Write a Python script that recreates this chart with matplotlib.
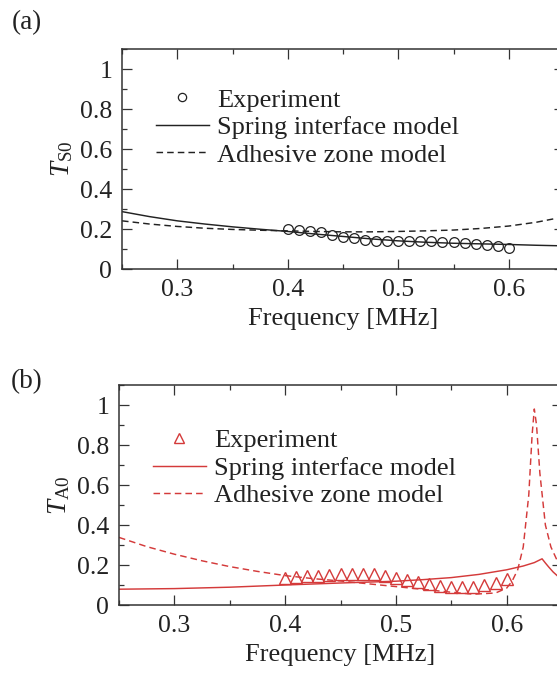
import matplotlib
matplotlib.use("Agg")
import matplotlib.pyplot as plt
from matplotlib.ticker import MultipleLocator

plt.rcParams['font.family'] = ['Liberation Serif', 'DejaVu Serif']
plt.rcParams['mathtext.fontset'] = 'custom'
plt.rcParams['mathtext.rm'] = 'Liberation Serif'
plt.rcParams['mathtext.it'] = 'Liberation Serif:italic'

# ---------------- data ----------------
freq_exp = [0.40, 0.41, 0.42, 0.43, 0.44, 0.45, 0.46, 0.47, 0.48, 0.49, 0.50,
            0.51, 0.52, 0.53, 0.54, 0.55, 0.56, 0.57, 0.58, 0.59, 0.60]
ts0_exp = [0.200, 0.197, 0.190, 0.184, 0.172, 0.162, 0.154, 0.147, 0.142, 0.142, 0.142,
           0.142, 0.140, 0.140, 0.138, 0.137, 0.132, 0.125, 0.120, 0.115, 0.107]
ta0_exp = [0.135, 0.140, 0.144, 0.147, 0.150, 0.154, 0.157, 0.157, 0.154, 0.147, 0.137,
           0.127, 0.115, 0.104, 0.095, 0.092, 0.092, 0.092, 0.099, 0.110, 0.132]

freq_s0_model = [0.25, 0.275, 0.30, 0.325, 0.35, 0.375, 0.40, 0.425, 0.45, 0.475, 0.50,
                 0.525, 0.55, 0.575, 0.60, 0.625, 0.65]
ts0_spring = [0.288, 0.263, 0.242, 0.226, 0.212, 0.200, 0.189, 0.176, 0.164, 0.152, 0.142,
              0.135, 0.130, 0.127, 0.124, 0.120, 0.117]
ts0_adhesive = [0.242, 0.226, 0.214, 0.205, 0.199, 0.195, 0.192, 0.189, 0.187, 0.187, 0.189,
                0.192, 0.196, 0.204, 0.216, 0.235, 0.262]

freq_a0_spring = [0.25, 0.30, 0.35, 0.40, 0.45, 0.50, 0.525, 0.55, 0.575, 0.60, 0.615,
                  0.625, 0.632, 0.635, 0.638, 0.642, 0.646, 0.65]
ta0_spring = [0.079, 0.082, 0.089, 0.100, 0.110, 0.119, 0.127, 0.137, 0.153, 0.176, 0.195,
              0.212, 0.231, 0.210, 0.190, 0.165, 0.145, 0.130]

freq_a0_adhesive = [0.25, 0.275, 0.30, 0.325, 0.35, 0.375, 0.40, 0.425, 0.45, 0.475, 0.50,
                    0.525, 0.55, 0.57, 0.59, 0.60, 0.605, 0.61, 0.615, 0.62, 0.623, 0.625,
                    0.627, 0.63, 0.635, 0.64, 0.645, 0.65]
ta0_adhesive = [0.338, 0.292, 0.254, 0.221, 0.192, 0.168, 0.147, 0.132, 0.120, 0.106, 0.092,
                0.078, 0.064, 0.054, 0.060, 0.084, 0.120, 0.176, 0.290, 0.550, 0.850, 0.980,
                0.900, 0.660, 0.400, 0.290, 0.230, 0.190]

legend_labels = ["Experiment", "Spring interface model", "Adhesive zone model"]
ylabels = [r"$T_{\mathrm{S0}}$", r"$T_{\mathrm{A0}}$"]
panel_labels = ["(a)", "(b)"]

RED = "#d43a3a"
FS = 18.5
LW = 1.05

fig = plt.figure(figsize=(5.57, 6.73), dpi=100)
ax_a = fig.add_axes([122/557, 1-269.3/673, (564-122)/557, (269.3-49)/673])
ax_b = fig.add_axes([119/557, 1-605/673, (562-119)/557, (605-385)/673])


def style(ax, ylabel):
    ax.set_xlim(0.25, 0.65)
    ax.set_ylim(0, 1.1)
    ax.xaxis.set_major_locator(MultipleLocator(0.1))
    ax.xaxis.set_minor_locator(MultipleLocator(0.05))
    ax.yaxis.set_major_locator(MultipleLocator(0.2))
    ax.yaxis.set_minor_locator(MultipleLocator(0.1))
    ax.set_xticks([0.3, 0.4, 0.5, 0.6])
    ax.set_xticklabels(["0.3", "0.4", "0.5", "0.6"])
    ax.set_yticks([0, 0.2, 0.4, 0.6, 0.8, 1.0])
    ax.set_yticklabels(["0", "0.2", "0.4", "0.6", "0.8", "1"])
    ax.tick_params(which='both', direction='in', top=True, right=True, width=0.9,
                   colors='#333333', labelcolor='#222222', labelsize=FS)
    ax.tick_params(which='major', length=7)
    ax.tick_params(which='minor', length=3.5)
    ax.tick_params(axis='x', pad=7)
    ax.tick_params(axis='y', pad=7)
    for s in ax.spines.values():
        s.set_linewidth(1.1)
        s.set_color('#333333')
    ax.set_xlabel("Frequency [MHz]", fontsize=FS + 0.5, labelpad=5, color='#222222')
    ax.set_ylabel(ylabel, fontsize=FS + 1, color='#222222')
    ax.yaxis.set_label_coords(-0.105, 0.5)


# panel (a)
ax_a.plot(freq_s0_model, ts0_spring, color='#222222', lw=LW, label=legend_labels[1])
ax_a.plot(freq_s0_model, ts0_adhesive, color='#222222', lw=LW, dashes=(4.5, 2.8),
          label=legend_labels[2])
ax_a.plot(freq_exp, ts0_exp, linestyle='none', marker='o', ms=7, mfc='none',
          mec='#222222', mew=0.9, label=legend_labels[0])
style(ax_a, ylabels[0])

# panel (b)
ax_b.plot(freq_a0_spring, ta0_spring, color=RED, lw=LW, label=legend_labels[1])
ax_b.plot(freq_a0_adhesive, ta0_adhesive, color=RED, lw=LW, dashes=(4.5, 2.8),
          label=legend_labels[2])
ax_b.plot(freq_exp, ta0_exp, linestyle='none', marker='^', ms=8, mfc='none',
          mec=RED, mew=1.0, label=legend_labels[0])
style(ax_b, ylabels[1])

for ax, anchor_y in ((ax_a, 0.822), (ax_b, 0.80)):
    h, l = ax.get_legend_handles_labels()
    order = [2, 0, 1]
    leg = ax.legend([h[i] for i in order], [l[i] for i in order], loc='upper left',
                    bbox_to_anchor=(0.077, anchor_y), frameon=False, fontsize=FS + 0.5,
                    handlelength=2.0, handletextpad=0.3, labelspacing=0.15,
                    borderpad=0, borderaxespad=0, markerscale=0.85)
    for t in leg.get_texts():
        t.set_color('#222222')

fig.text(12/557, 1-10/673, panel_labels[0], fontsize=FS + 1, va='top', ha='left',
         color='#222222')
fig.text(11/557, 1-369/673, panel_labels[1], fontsize=FS + 1, va='top', ha='left',
         color='#222222')

fig.savefig("out.png", dpi=100)
